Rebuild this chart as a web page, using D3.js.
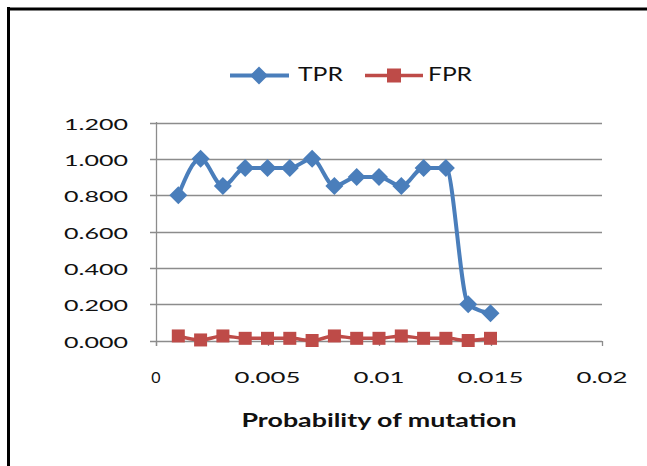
<!DOCTYPE html>
<html><head><meta charset="utf-8">
<script src="https://cdn.jsdelivr.net/npm/d3@7"></script>
<style>body{margin:0;background:#fff}svg{display:block}</style>
</head><body>
<svg id="c" width="647" height="466"></svg>
<script>
const xValues = [0.001,0.002,0.003,0.004,0.005,0.006,0.007,0.008,0.009,0.010,0.011,0.012,0.013,0.014,0.015];
const tprValues = [0.80,1.00,0.85,0.95,0.95,0.95,1.00,0.85,0.90,0.90,0.85,0.95,0.95,0.20,0.15];
const fprValues = [0.025,0.003,0.025,0.012,0.012,0.012,0.000,0.025,0.012,0.012,0.025,0.012,0.012,0.000,0.012];
const xTicks = [0,0.005,0.01,0.015,0.02];
const xTickLabels = ["0","0.005","0.01","0.015","0.02"];
const yTicks = [0,0.2,0.4,0.6,0.8,1.0,1.2];
const yTickLabels = ["0.000","0.200","0.400","0.600","0.800","1.000","1.200"];
const seriesNames = ["TPR","FPR"];
const xTitle = "Probability of mutation";

const svg = d3.select("#c");
const font = "Lato, 'Open Sans', sans-serif";
const x = d3.scaleLinear().domain([0,0.02]).range([156,602]);
const y = d3.scaleLinear().domain([0,1.2]).range([340.5,122.5]);

// outer frame
svg.append("line").attr("x1",7).attr("x2",647).attr("y1",9).attr("y2",9).attr("stroke","#000").attr("stroke-width",3);
svg.append("line").attr("x1",8.5).attr("x2",8.5).attr("y1",7).attr("y2",466).attr("stroke","#000").attr("stroke-width",3);

// gridlines + y ticks
const gy = svg.append("g");
yTicks.forEach((t,i)=>{
  const yy = Math.round(y(t))+0.5;
  gy.append("line").attr("x1",150).attr("x2",602).attr("y1",yy).attr("y2",yy).attr("stroke","#8c8c8c").attr("stroke-width",1.3);
  gy.append("text").attr("x",128).attr("y",yy).attr("text-anchor","end").attr("dominant-baseline","central")
    .attr("font-family",font).attr("font-size",16).attr("fill","#111")
    .attr("textLength",64).attr("lengthAdjust","spacingAndGlyphs").text(yTickLabels[i]);
});
// y axis line
svg.append("line").attr("x1",156.5).attr("x2",156.5).attr("y1",122).attr("y2",346).attr("stroke","#8c8c8c").attr("stroke-width",1.3);
// x ticks
xTicks.forEach((t,i)=>{
  const xx = Math.round(x(t))+0.5;
  svg.append("line").attr("x1",xx).attr("x2",xx).attr("y1",341).attr("y2",346).attr("stroke","#8c8c8c").attr("stroke-width",1.3);
  const lbl = xTickLabels[i];
  const t2 = svg.append("text").attr("x",x(t)).attr("y",383).attr("text-anchor","middle")
    .attr("font-family",font).attr("font-size",16).attr("fill","#111").text(lbl);
  if (lbl.length>1) t2.attr("textLength", lbl.length===4?51:66).attr("lengthAdjust","spacingAndGlyphs");
});
// axis title
svg.append("text").attr("x",379).attr("y",427).attr("text-anchor","middle")
  .attr("font-family",font).attr("font-weight","bold").attr("font-size",18).attr("fill","#111")
  .attr("textLength",275).attr("lengthAdjust","spacingAndGlyphs").text(xTitle);

const blue = "#4a7ebb", red = "#be4b48";
const curve = d3.curveMonotoneX;
const lineT = d3.line().x((d,i)=>x(xValues[i])).y(d=>y(d)).curve(curve);
svg.append("path").attr("d",lineT(fprValues)).attr("fill","none").attr("stroke",red).attr("stroke-width",3.5);
svg.selectAll(".sq").data(fprValues).enter().append("rect")
  .attr("x",(d,i)=>x(xValues[i])-6.5).attr("y",d=>y(d)-6.5).attr("width",13).attr("height",13).attr("fill",red);
svg.append("path").attr("d",lineT(tprValues)).attr("fill","none").attr("stroke",blue).attr("stroke-width",4);
const diamond = (cx,cy,r)=>`M${cx},${cy-r}L${cx+r},${cy}L${cx},${cy+r}L${cx-r},${cy}Z`;
svg.selectAll(".dm").data(tprValues).enter().append("path")
  .attr("d",(d,i)=>diamond(x(xValues[i]),y(d),9)).attr("fill",blue);

// legend
const lg = svg.append("g");
lg.append("line").attr("x1",230).attr("x2",289).attr("y1",75.5).attr("y2",75.5).attr("stroke",blue).attr("stroke-width",4);
lg.append("path").attr("d",diamond(259,75.5,9)).attr("fill",blue);
lg.append("text").attr("x",298).attr("y",81).attr("font-family",font).attr("font-size",19).attr("fill","#111")
  .attr("textLength",45).attr("lengthAdjust","spacingAndGlyphs").text(seriesNames[0]);
lg.append("line").attr("x1",365).attr("x2",423).attr("y1",75.5).attr("y2",75.5).attr("stroke",red).attr("stroke-width",3.5);
lg.append("rect").attr("x",387).attr("y",68.5).attr("width",14).attr("height",14).attr("fill",red);
lg.append("text").attr("x",428).attr("y",81).attr("font-family",font).attr("font-size",19).attr("fill","#111")
  .attr("textLength",44).attr("lengthAdjust","spacingAndGlyphs").text(seriesNames[1]);
</script>
</body></html>
